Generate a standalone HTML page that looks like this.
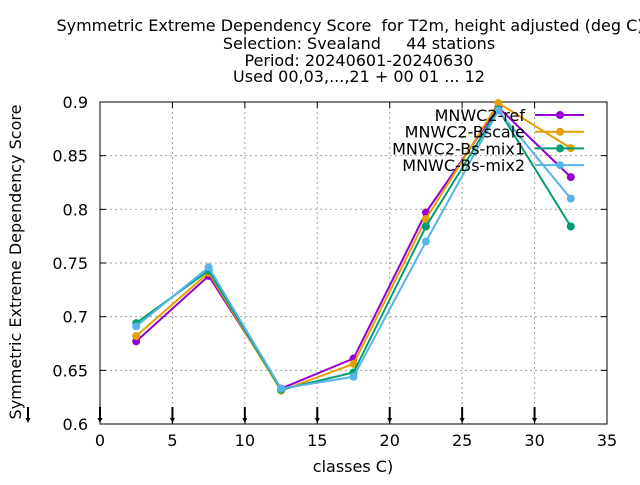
<!DOCTYPE html>
<html><head><meta charset="utf-8"><style>
body{margin:0;background:#fff}
svg text{font-family:"DejaVu Sans","Liberation Sans",sans-serif;fill:#000;white-space:pre}
</style></head><body>
<svg xmlns="http://www.w3.org/2000/svg" width="640" height="480" viewBox="0 0 640 480">
<g font-size="16" text-anchor="middle">
<text x="350" y="31" xml:space="preserve">Symmetric Extreme Dependency Score  for T2m, height adjusted (deg C)</text>
<text x="359" y="49" xml:space="preserve">Selection: Svealand     44 stations</text>
<text x="359" y="66">Period: 20240601-20240630</text>
<text x="359" y="82">Used 00,03,...,21 + 00 01 ... 12</text>
</g>
<g id="grid"></g>
<g id="axes"></g>
<g id="series"></g>
<g id="legend"></g>
<text x="353" y="472" font-size="16" text-anchor="middle">classes C)</text>
<text transform="translate(21,262) rotate(-90)" font-size="16" text-anchor="middle">Symmetric Extreme Dependency Score</text>
</svg>
<script>
const categories=[2.5,7.5,12.5,17.5,22.5,27.5,32.5];
const seriesNames=["MNWC2-ref","MNWC2-Bscale","MNWC2-Bs-mix1","MNWC-Bs-mix2"];
const ref=[0.677,0.738,0.633,0.661,0.797,0.895,0.830];
const bscale=[0.682,0.741,0.631,0.656,0.791,0.899,0.857];
const mix1=[0.694,0.743,0.632,0.648,0.784,0.893,0.784];
const mix2=[0.691,0.746,0.633,0.644,0.770,0.892,0.810];
const xTicks=[0,5,10,15,20,25,30,35];
const yTicks=[0.6,0.65,0.7,0.75,0.8,0.85,0.9];
const yTickLabels=["0.6","0.65","0.7","0.75","0.8","0.85","0.9"];
const colors=["#9400d3","#e69f00","#009e73","#56b4e9"];
const data=[ref,bscale,mix1,mix2];
const L=100,R=607,T=102,B=424;
const X=v=>L+(v-0)/(35-0)*(R-L);
const Y=v=>B-(v-0.6)/(0.9-0.6)*(B-T);
const NS="http://www.w3.org/2000/svg";
function mk(tag,attrs,parent){const e=document.createElementNS(NS,tag);for(const k in attrs)e.setAttribute(k,attrs[k]);parent.appendChild(e);return e;}
const grid=document.getElementById('grid'),axes=document.getElementById('axes'),ser=document.getElementById('series'),leg=document.getElementById('legend');
xTicks.forEach((t,i)=>{
 if(i>0&&i<xTicks.length-1){const g=mk('line',{x1:X(t),x2:X(t),y1:T,y2:B,stroke:'#a0a0a0','stroke-dasharray':'2,3'},grid);
 }
 mk('line',{x1:X(t),x2:X(t),y1:B,y2:B-6,stroke:'#000'},axes);
 mk('line',{x1:X(t),x2:X(t),y1:T,y2:T+6,stroke:'#000'},axes);
 const tx=mk('text',{x:X(t),y:B+22,'font-size':16,'text-anchor':'middle'},axes);tx.textContent=t;
 
 if(t<35){mk('line',{x1:X(t),x2:X(t),y1:B-17,y2:B-4,stroke:'#000','stroke-width':2},axes);
 mk('path',{d:`M${X(t)-2.5},${B-6}L${X(t)+2.5},${B-6}L${X(t)},${B-1}Z`,fill:'#000'},axes);}
});
mk('line',{x1:28,x2:28,y1:B-17,y2:B-4,stroke:'#000','stroke-width':2},axes);
mk('path',{d:`M25.5,${B-6}L30.5,${B-6}L28,${B-1}Z`,fill:'#000'},axes);
yTicks.forEach((t,i)=>{
 if(i>0&&i<yTicks.length-1){const g=mk('line',{x1:L,x2:R,y1:Y(t),y2:Y(t),stroke:'#a0a0a0','stroke-dasharray':'2,3'},grid);
 }
 mk('line',{x1:L,x2:L+6,y1:Y(t),y2:Y(t),stroke:'#000'},axes);
 mk('line',{x1:R,x2:R-6,y1:Y(t),y2:Y(t),stroke:'#000'},axes);
 const tx=mk('text',{x:L-12,y:Y(t)+6,'font-size':16,'text-anchor':'end'},axes);tx.textContent=yTickLabels[i];
 
});
mk('rect',{x:L,y:T,width:R-L,height:B-T,fill:'none',stroke:'#000'},axes);
data.forEach((vals,s)=>{
 const g=mk('g',{},ser);
 
 
 mk('polyline',{points:vals.map((v,i)=>X(categories[i])+','+Y(v)).join(' '),fill:'none',stroke:colors[s],'stroke-width':2},g);
 vals.forEach((v,i)=>{const c=mk('circle',{cx:X(categories[i]),cy:Y(v),r:4,fill:colors[s]},g);
 });
 const ly=115+s*16.7;
 const e=mk('g',{},leg);
 
 const t=mk('text',{x:525,y:ly+6,'font-size':16,'text-anchor':'end'},e);t.textContent=seriesNames[s];
 mk('line',{x1:535,x2:584,y1:ly,y2:ly,stroke:colors[s],'stroke-width':2},e);
 mk('circle',{cx:560,cy:ly,r:4,fill:colors[s]},e);
});
</script>
</body></html>
